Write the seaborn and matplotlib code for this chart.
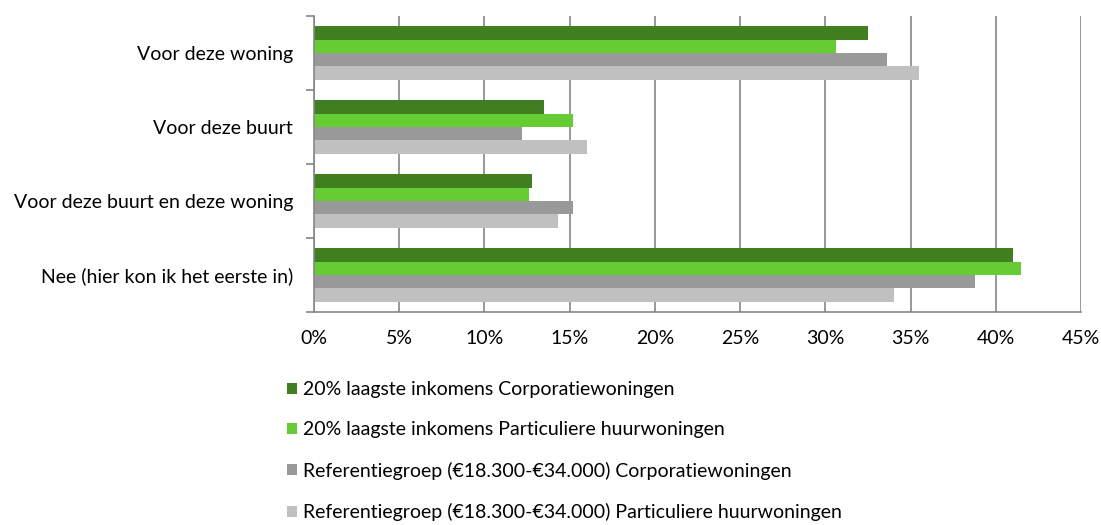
import numpy as np
import pandas as pd
import matplotlib
matplotlib.use("Agg")
import matplotlib.pyplot as plt
import seaborn as sns
from matplotlib.ticker import FuncFormatter, FixedLocator

categories = ["Voor deze woning", "Voor deze buurt",
              "Voor deze buurt en deze woning", "Nee (hier kon ik het eerste in)"]
series = ["20% laagste inkomens Corporatiewoningen",
          "20% laagste inkomens Particuliere huurwoningen",
          "Referentiegroep (€18.300-€34.000) Corporatiewoningen",
          "Referentiegroep (€18.300-€34.000) Particuliere huurwoningen"]
laag_corp = [32.5, 13.5, 12.8, 41.0]
laag_part = [30.6, 15.2, 12.6, 41.5]
ref_corp = [33.6, 12.2, 15.2, 38.8]
ref_part = [35.5, 16.0, 14.3, 34.0]
colors = ["#407F20", "#66CC33", "#999999", "#C0C0C0"]

rows = []
for s, vals in zip(series, [laag_corp, laag_part, ref_corp, ref_part]):
    for c, v in zip(categories, vals):
        rows.append({"cat": c, "val": v, "series": s})
df = pd.DataFrame(rows)

sns.set_style("white")
plt.rcParams["font.family"] = ["Lato", "DejaVu Sans"]
plt.rcParams["text.color"] = "black"

fig = plt.figure(figsize=(11.01, 5.25), dpi=100)
ax = fig.add_axes([314 / 1101, 1 - 312 / 525, (1081 - 314) / 1101, (312 - 16) / 525])

sns.barplot(data=df, y="cat", x="val", hue="series", palette=colors, width=0.72,
            saturation=1, orient="h", ax=ax, order=categories, hue_order=series,
            linewidth=0)

ax.set_xlim(0, 45)
ax.set_ylim(3.5, -0.5)
ax.set_xticks(np.arange(0, 46, 5))
ax.xaxis.set_major_formatter(FuncFormatter(lambda v, p: f"{v:.0f}%"))
ax.set_xlabel("")
ax.set_ylabel("")
ax.grid(axis="x", color="#868686", linewidth=1.2)
ax.set_axisbelow(True)

for side in ["top", "right"]:
    ax.spines[side].set_visible(False)
for side in ["left", "bottom"]:
    ax.spines[side].set_color("#868686")
    ax.spines[side].set_linewidth(1.2)

ax.tick_params(axis="x", which="major", length=5, color="#868686", width=1.2,
               labelsize=14, pad=8, labelcolor="black")
ax.tick_params(axis="y", which="major", length=0, labelsize=14, pad=15,
               labelcolor="black")
ax.yaxis.set_minor_locator(FixedLocator([-0.5, 0.5, 1.5, 2.5, 3.5]))
ax.tick_params(axis="y", which="minor", length=6, color="#868686", width=1.2, left=True)

handles, labels = ax.get_legend_handles_labels()
ax.get_legend().remove()
fig.legend(handles, labels, loc="upper left", bbox_to_anchor=(287 / 1101, 1 - 381 / 525),
           frameon=False, fontsize=14, handlelength=0.5, handleheight=0.5,
           handletextpad=0.3, labelspacing=1.2, borderaxespad=0, borderpad=0)

fig.savefig("out.png", dpi=100)
